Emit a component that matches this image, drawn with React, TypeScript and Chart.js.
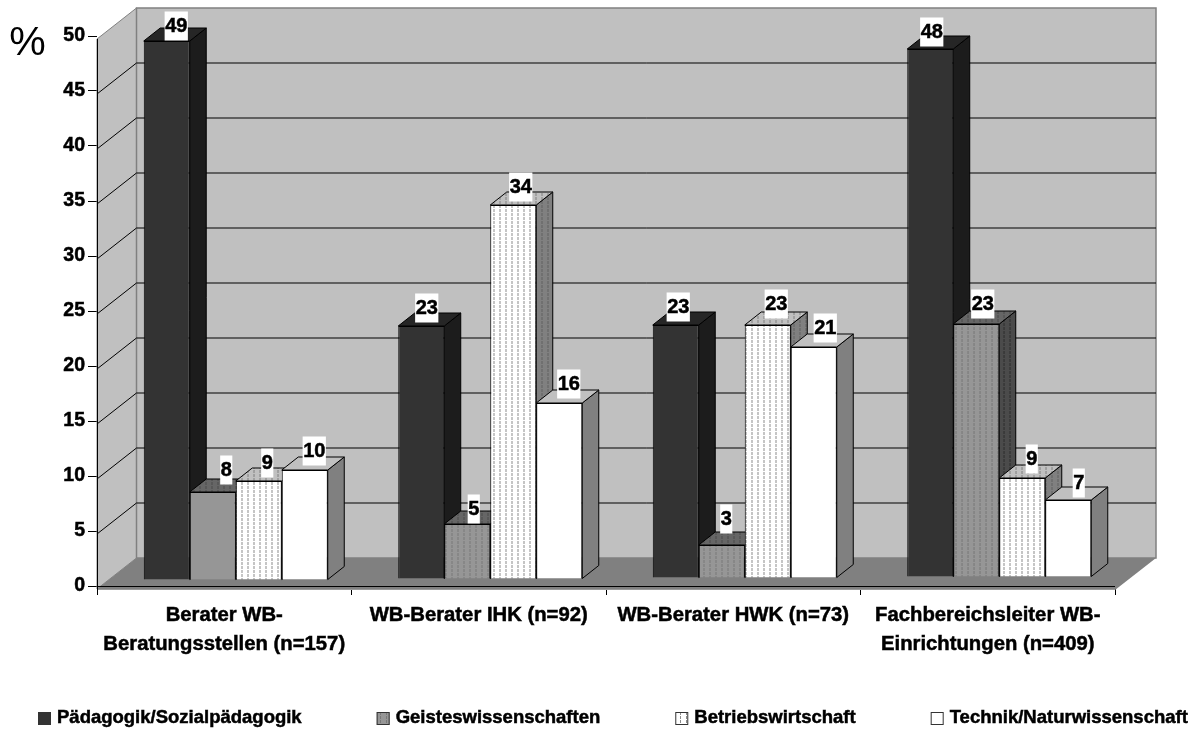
import { useEffect, useRef } from "react";
import { Chart, registerables } from "chart.js";

Chart.register(...registerables);

const categories = [
  ["Berater WB-", "Beratungsstellen (n=157)"],
  "WB-Berater IHK (n=92)",
  "WB-Berater HWK (n=73)",
  ["Fachbereichsleiter WB-", "Einrichtungen (n=409)"],
];
const seriesNames = [
  "Pädagogik/Sozialpädagogik",
  "Geisteswissenschaften",
  "Betriebswirtschaft",
  "Technik/Naturwissenschaft",
];
const paedagogik = [49, 23, 23, 48];
const geistes = [8, 5, 3, 23];
const betrieb = [9, 34, 23, 9];
const technik = [10, 16, 21, 7];
const seriesValues = [paedagogik, geistes, betrieb, technik];
const yTicks = [0, 5, 10, 15, 20, 25, 30, 35, 40, 45, 50];

const FONT = '"Liberation Sans", Arial, sans-serif';
const WALL_DEPTH = { x: 39.5, y: -31 };
const BAR_DEPTH = { x: 16.5, y: -13 };
const BAR_SHIFT_X = 11.5;

// Vertical dashed hatch used for the patterned series.
function hatch(bg: string, ink: string) {
  const c = document.createElement("canvas");
  c.width = 6;
  c.height = 4;
  const g = c.getContext("2d")!;
  g.fillStyle = bg;
  g.fillRect(0, 0, 6, 4);
  g.fillStyle = ink;
  g.fillRect(2, 0, 1, 3);
  return g.createPattern(c, "repeat")!;
}

function poly(ctx: CanvasRenderingContext2D, pts: number[][], fill: any, stroke?: string, lw = 1) {
  ctx.beginPath();
  pts.forEach(([x, y], i) => (i ? ctx.lineTo(x, y) : ctx.moveTo(x, y)));
  ctx.closePath();
  ctx.fillStyle = fill;
  ctx.fill();
  if (stroke) {
    ctx.strokeStyle = stroke;
    ctx.lineWidth = lw;
    ctx.stroke();
  }
}

// Solid text with a hairline outline, for the heavier look of the labels.
function heavyText(ctx: CanvasRenderingContext2D, text: string, x: number, y: number) {
  ctx.fillStyle = "#000000";
  ctx.strokeStyle = "#000000";
  ctx.lineWidth = 0.5;
  ctx.fillText(text, x, y);
  ctx.strokeText(text, x, y);
}

export default function App() {
  const ref = useRef<HTMLCanvasElement>(null);

  useEffect(() => {
    const gray = hatch("#969696", "#787878");
    const dotted = hatch("#ffffff", "#8c8c8c");
    const front = [
      ["#333333", "#333333", "#333333", "#333333"],
      ["#969696", gray, gray, gray],
      [dotted, dotted, dotted, dotted],
      ["#ffffff", "#ffffff", "#ffffff", "#ffffff"],
    ];
    const sides = ["#1c1c1c", hatch("#4b4b4b", "#2e2e2e"), hatch("#808080", "#606060"), "#808080"];
    const tops = ["#262626", hatch("#666666", "#4a4a4a"), hatch("#c0c0c0", "#808080"), "#c0c0c0"];
    const labelNudge = [
      [[9, -15], [5, -18], [2, -18], [1, -17]],
      [[13, -22], [6, -15], [4, -26], [6, -20]],
      [[8, -18], [7, -18], [8, -21], [9, -19]],
      [[9, -19], [9, -19], [11, -19], [10, -17]],
    ];

    const scene = {
      id: "scene3d",
      beforeDatasetsDraw(chart: any) {
        const { ctx, scales } = chart;
        const ys = scales.y;
        const xs = scales.x;
        const left = xs.left;
        const right = xs.right;
        const at0 = ys.getPixelForValue(0);
        const at50 = ys.getPixelForValue(50);
        const planeY = (p: number) => p + 3;
        const d = WALL_DEPTH;
        ctx.save();
        // Side wall, back wall and floor of the box.
        poly(ctx, [[left, planeY(at50)], [left + d.x, planeY(at50) + d.y], [left + d.x, planeY(at0) + d.y], [left, planeY(at0)]], "#c0c0c0", "#808080");
        poly(ctx, [[left + d.x, planeY(at50) + d.y], [right + d.x + 1.5, planeY(at50) + d.y], [right + d.x + 1.5, planeY(at0) + d.y], [left + d.x, planeY(at0) + d.y]], "#c0c0c0", "#808080", 1.5);
        poly(ctx, [[left, planeY(at0)], [left + d.x, planeY(at0) + d.y], [right + d.x + 1.5, planeY(at0) + d.y], [right, planeY(at0) + 1]], "#808080");
        ctx.strokeStyle = "#000000";
        ctx.lineWidth = 1;
        yTicks.forEach((v) => {
          if (v === 0 || v === 50) return;
          const p = Math.round(planeY(ys.getPixelForValue(v)));
          ctx.beginPath();
          ctx.moveTo(left, p);
          ctx.lineTo(left + d.x, p + d.y);
          ctx.lineTo(right + d.x + 1.5, p + d.y);
          ctx.stroke();
        });
        ctx.strokeStyle = "#999999";
        ctx.beginPath();
        ctx.moveTo(left, planeY(at0) + 0.5);
        ctx.lineTo(right, planeY(at0) + 0.5);
        ctx.stroke();
        // The vertical axis line runs down past the baseline.
        ctx.strokeStyle = "#000000";
        ctx.beginPath();
        ctx.moveTo(left + 0.5, planeY(at50));
        ctx.lineTo(left + 0.5, at0 + 9);
        ctx.stroke();
        ctx.beginPath();
        ctx.moveTo(left, at0 + 0.5);
        ctx.lineTo(right, at0 + 0.5);
        ctx.stroke();

        // Bars left to right: side and top faces first, then the library's front face.
        const metas = seriesValues.map((_, i) => chart.getDatasetMeta(i));
        categories.forEach((_, g) => {
          metas.forEach((meta: any, s: number) => {
            const el = meta.data[g];
            const { x, y, base, width } = el.getProps(["x", "y", "base", "width"], true);
            const x0 = x - width / 2;
            const x1 = x + width / 2;
            const b = BAR_DEPTH;
            ctx.save();
            ctx.translate(BAR_SHIFT_X, -6 - g);
            poly(ctx, [[x1, y], [x1 + b.x, y + b.y], [x1 + b.x, base + b.y], [x1, base]], sides[s], "#000000");
            poly(ctx, [[x0, y], [x0 + b.x, y + b.y], [x1 + b.x, y + b.y], [x1, y]], tops[s], "#000000");
            el.draw(ctx);
            ctx.restore();
          });
        });

        // Value labels on white plates.
        ctx.font = `bold 20px ${FONT}`;
        ctx.textAlign = "center";
        ctx.textBaseline = "middle";
        metas.forEach((meta: any, s: number) => {
          meta.data.forEach((el: any, g: number) => {
            const { x, y } = el.getProps(["x", "y"], true);
            const text = String(seriesValues[s][g]);
            const [nx, ny] = labelNudge[s][g];
            const cx = x + 12 + nx;
            const cy = y - 6 - g + ny;
            const w = ctx.measureText(text).width + 1;
            ctx.fillStyle = "#ffffff";
            ctx.fillRect(cx - w / 2, cy - 14.5, w, 29);
            heavyText(ctx, text, cx, cy);
          });
        });

        // Unit marker beside the value axis.
        ctx.font = `41px ${FONT}`;
        ctx.textBaseline = "alphabetic";
        ctx.fillStyle = "#000000";
        ctx.fillText("%", 27.5, 55);

        // Legend row.
        ctx.font = `bold 18.5px ${FONT}`;
        ctx.textAlign = "left";
        ctx.textBaseline = "middle";
        const swatches = ["#333333", gray, dotted, "#ffffff"];
        let lx = 38;
        const ly = 718;
        seriesNames.forEach((name, i) => {
          ctx.fillStyle = swatches[i];
          ctx.fillRect(lx, ly - 6, 13, 13);
          ctx.strokeStyle = "#333333";
          ctx.lineWidth = 1;
          ctx.strokeRect(lx + 0.5, ly - 5.5, 12, 12);
          heavyText(ctx, name, lx + 19, ly);
          lx += 19 + ctx.measureText(name).width + 75;
        });
        ctx.restore();
        return false;
      },
    };

    const chart = new Chart(ref.current!, {
      type: "bar",
      data: {
        labels: categories as any,
        datasets: seriesValues.map((data, i) => ({
          label: seriesNames[i],
          data,
          backgroundColor: front[i] as any,
          borderColor: "#000000",
          borderWidth: 1,
          barPercentage: 1,
          categoryPercentage: 0.723,
        })),
      },
      plugins: [scene],
      options: {
        responsive: false,
        animation: false,
        layout: { padding: { top: 36, right: 84, bottom: 43, left: 0 } },
        plugins: { legend: { display: false }, tooltip: { enabled: false } },
        scales: {
          x: {
            afterFit: (s: any) => {
              s.height = 100;
            },
            border: { display: false },
            grid: { drawOnChartArea: false, tickLength: 9, color: "#000000" },
            ticks: {
              color: "#000000",
              padding: 5.5,
              maxRotation: 0,
              autoSkip: false,
              textStrokeColor: "#000000",
              textStrokeWidth: 0.5,
              font: { family: FONT, size: 20.3, weight: "bold", lineHeight: "29px" },
            },
          },
          y: {
            min: 0,
            max: 50,
            afterFit: (s: any) => {
              s.width = 97;
            },
            border: { display: false },
            grid: { drawOnChartArea: false, tickLength: 9, color: "#000000" },
            afterBuildTicks: (s: any) => {
              s.ticks = yTicks.map((value) => ({ value }));
            },
            ticks: {
              color: "#000000",
              padding: 3,
              textStrokeColor: "#000000",
              textStrokeWidth: 0.5,
              font: { family: FONT, size: 19.5, weight: "bold" },
            },
          },
        },
      },
    });
    return () => chart.destroy();
  }, []);

  return (
    <div style={{ position: "absolute", left: 0, top: 0, width: 1199, height: 729 }}>
      <canvas ref={ref} width={1199} height={729} style={{ display: "block" }} />
    </div>
  );
}
